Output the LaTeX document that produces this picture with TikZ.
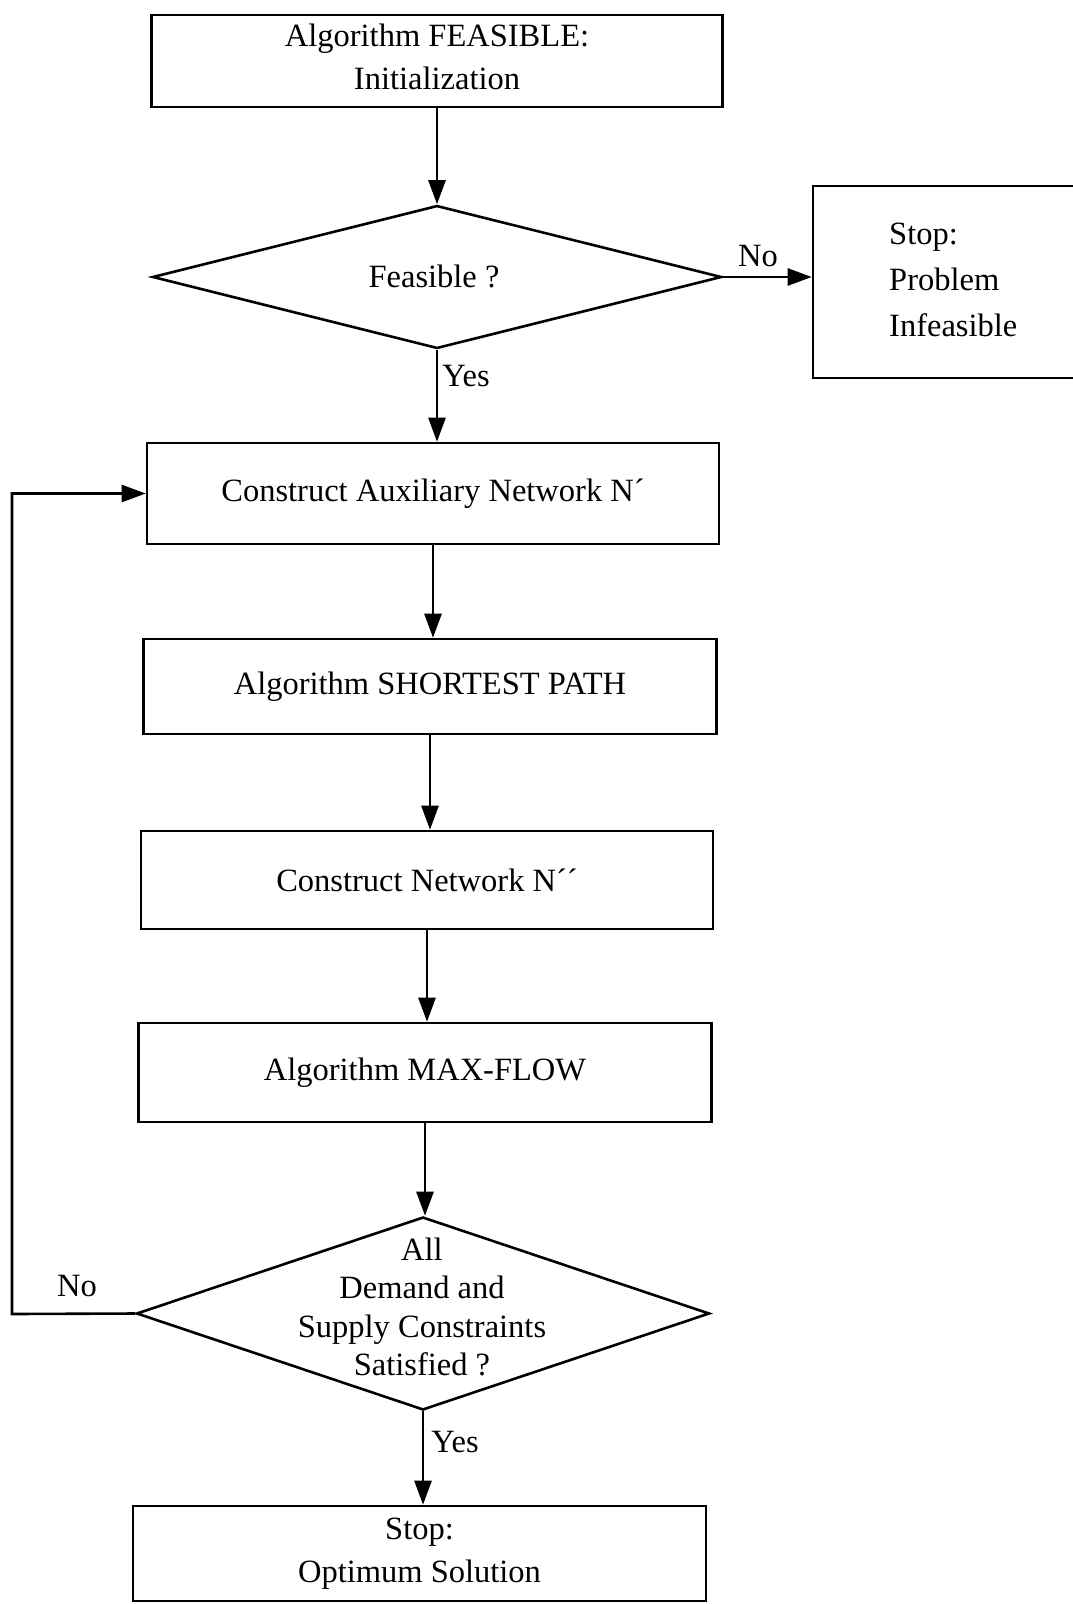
\documentclass[tikz,border=0pt]{standalone}
\usepackage{fontspec}
\setmainfont{Liberation Serif}
\usetikzlibrary{shapes.geometric,arrows.meta}
\begin{document}
\begin{tikzpicture}[x=1pt,y=-1pt,
  every node/.style={font=\fontsize{32.5}{43}\selectfont},
  box/.style={draw,line width=2.6pt,rectangle,inner sep=0pt,align=center},
  dec/.style={draw,line width=2.6pt,diamond,inner sep=0pt,aspect=4},
  txt/.style={inner sep=0pt,align=center},
  arr/.style={line width=2.6pt,-{Triangle[length=24pt,width=17pt]}},
  lbl/.style={inner sep=0pt}]
\useasboundingbox (0,0) rectangle (1073,1604);
\node[box,minimum width=571pt,minimum height=92pt] (b1) at (437,61) {};
\node[txt] (b1t) at (437,57) {Algorithm FEASIBLE:\\Initialization};
\node[dec,minimum width=569pt,minimum height=143pt] (d1) at (437,277) {};
\node[txt] (d1t) at (434,276) {Feasible ?};
\node[box,minimum width=277pt,minimum height=192pt] (s1) at (951.5,282) {};
\node[txt,anchor=west,align=left,font=\fontsize{32.5}{46}\selectfont] (s1t) at (889,280) {Stop:\\Problem\\Infeasible};
\node[box,minimum width=572pt,minimum height=101pt] (b2) at (433,493.5) {Construct Auxiliary Network N´};
\node[box,minimum width=573pt,minimum height=95pt] (b3) at (430,686.5) {Algorithm SHORTEST PATH};
\node[box,minimum width=572pt,minimum height=98pt] (b4) at (427,880) {Construct Network N´´};
\node[box,minimum width=573pt,minimum height=99pt] (b5) at (425,1072.5) {Algorithm MAX-FLOW};
\node[dec,minimum width=573pt,minimum height=193pt] (d2) at (423,1313.5) {};
\node[txt,font=\fontsize{32.5}{38.5}\selectfont] (d2t) at (422,1307) {All\\Demand and\\Supply Constraints\\Satisfied ?};
\node[box,minimum width=573pt,minimum height=95pt] (b6) at (419.5,1553.5) {Stop:\\Optimum Solution};
\coordinate (lp) at (12,1314);
\draw[arr] (b1.south) -- (b1.south |- d1.north);
\draw[arr] (d1.east) -- (d1.east -| s1.west);
\draw[arr] (d1.south) -- (d1.south |- b2.north);
\draw[arr] (b2.south) -- (b2.south |- b3.north);
\draw[arr] (b3.south) -- (b3.south |- b4.north);
\draw[arr] (b4.south) -- (b4.south |- b5.north);
\draw[arr] (b5.south) -- (b5.south |- d2.north);
\draw[arr] (d2.south) -- (d2.south |- b6.north);
\draw[arr] (d2.west) -- (lp) |- (b2.west);
\node[lbl] (no1) at (758,256) {No};
\node[lbl] (yes1) at (466,376) {Yes};
\node[lbl] (no2) at (77,1286) {No};
\node[lbl] (yes2) at (455,1442) {Yes};
\end{tikzpicture}
\end{document}
